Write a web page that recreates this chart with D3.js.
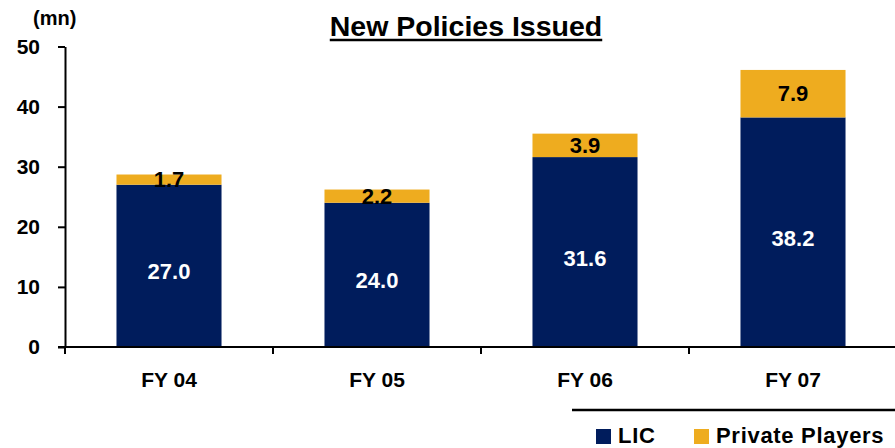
<!DOCTYPE html>
<html>
<head>
<meta charset="utf-8">
<script src="https://cdn.jsdelivr.net/npm/d3@7"></script>
<style>
  body { margin: 0; background: #fff; }
  svg text { font-family: "Liberation Sans", Arial, sans-serif; font-weight: bold; }
</style>
</head>
<body>
<div class="chart"></div>
<script>
// data
const years = ["FY 04", "FY 05", "FY 06", "FY 07"];
const lic = [27.0, 24.0, 31.6, 38.2];
const privatePlayers = [1.7, 2.2, 3.9, 7.9];
const yTicks = [0, 10, 20, 30, 40, 50];
const seriesNames = ["LIC", "Private Players"];

const w = 895;
const h = 448;
const navy = "#001c5c";
const gold = "#eeac1f";

const svg = d3.select(".chart").append("svg").attr("width", w).attr("height", h);

const xScale = d3.scaleBand()
  .domain(years)
  .range([65, 897])
  .paddingInner(0.495)
  .paddingOuter(0.2475);

const yScale = d3.scaleLinear().domain([0, 50]).range([347, 46.5]);

// stacked data
const rows = years.map((y, i) => ({ year: y, LIC: lic[i], "Private Players": privatePlayers[i] }));
const stacked = d3.stack().keys(seriesNames)(rows);
const colors = { "LIC": navy, "Private Players": gold };

svg.selectAll("g.series")
  .data(stacked)
  .enter()
  .append("g")
  .attr("class", "series")
  .attr("fill", (d) => colors[d.key])
  .selectAll("rect")
  .data((d) => d)
  .enter()
  .append("rect")
  .attr("x", (d) => xScale(d.data.year))
  .attr("width", xScale.bandwidth())
  .attr("y", (d) => yScale(d[1]))
  .attr("height", (d) => yScale(d[0]) - yScale(d[1]));

// value labels
svg.selectAll("text.lic")
  .data(stacked[0])
  .enter()
  .append("text")
  .attr("class", "lic")
  .attr("x", (d) => xScale(d.data.year) + xScale.bandwidth() / 2)
  .attr("y", (d) => (yScale(d[0]) + yScale(d[1])) / 2 + 6)
  .attr("text-anchor", "middle")
  .attr("dominant-baseline", "central")
  .style("font-size", "22px")
  .style("fill", "#fff")
  .text((d) => d.data.LIC.toFixed(1));

svg.selectAll("text.pvt")
  .data(stacked[1])
  .enter()
  .append("text")
  .attr("class", "pvt")
  .attr("x", (d) => xScale(d.data.year) + xScale.bandwidth() / 2)
  .attr("y", (d) => (yScale(d[0]) + yScale(d[1])) / 2)
  .attr("text-anchor", "middle")
  .attr("dominant-baseline", "central")
  .style("font-size", "22px")
  .style("fill", "#000")
  .text((d) => d.data["Private Players"].toFixed(1));

// axes
const yAxis = d3.axisLeft(yScale).tickValues(yTicks).tickSize(7).tickSizeOuter(0).tickPadding(18);
const gy = svg.append("g").attr("transform", "translate(65,0)").call(yAxis);
gy.select(".domain").attr("stroke", "#000").attr("stroke-width", 2);
gy.selectAll(".tick line").attr("stroke-width", 2);
gy.selectAll("text").style("font-size", "21px").attr("fill", "#000")
  .style("font-family", '"Liberation Sans", Arial, sans-serif').style("font-weight", "bold");

svg.append("line")
  .attr("x1", 58).attr("x2", w)
  .attr("y1", yScale(0)).attr("y2", yScale(0))
  .attr("stroke", "#000").attr("stroke-width", 2);

// category separators
const bounds = years.map((y) => xScale(y) - xScale.step() * xScale.paddingOuter());
svg.selectAll("line.sep")
  .data(bounds)
  .enter()
  .append("line")
  .attr("class", "sep")
  .attr("x1", (d) => d).attr("x2", (d) => d)
  .attr("y1", yScale(0)).attr("y2", yScale(0) + 7)
  .attr("stroke", "#000").attr("stroke-width", 2);

svg.selectAll("text.cat")
  .data(years)
  .enter()
  .append("text")
  .attr("class", "cat")
  .attr("x", (d) => xScale(d) + xScale.bandwidth() / 2)
  .attr("y", 387)
  .attr("text-anchor", "middle")
  .style("font-size", "21px")
  .text((d) => d);

// unit
svg.append("text").attr("x", 33).attr("y", 25).style("font-size", "20px").text("(mn)");

// title
const title = svg.append("text")
  .attr("x", 466).attr("y", 36)
  .attr("text-anchor", "middle")
  .style("font-size", "28.5px")
  .text("New Policies Issued");
const tb = title.node().getBBox();
svg.append("line")
  .attr("x1", tb.x).attr("x2", tb.x + tb.width)
  .attr("y1", 40).attr("y2", 40)
  .attr("stroke", "#000").attr("stroke-width", 2.5);

// legend
svg.append("line")
  .attr("x1", 572).attr("x2", w)
  .attr("y1", 410).attr("y2", 410)
  .attr("stroke", "#000").attr("stroke-width", 2.5);

const legendX = [596, 694];
const legend = svg.append("g").attr("id", "legend");
seriesNames.forEach((name, i) => {
  legend.append("rect")
    .attr("x", legendX[i]).attr("y", 429)
    .attr("width", 15).attr("height", 15)
    .attr("fill", colors[name]);
  legend.append("text")
    .attr("x", legendX[i] + 22).attr("y", 443)
    .style("font-size", "22px")
    .style("letter-spacing", "0.7px")
    .text(name);
});
</script>
</body>
</html>
